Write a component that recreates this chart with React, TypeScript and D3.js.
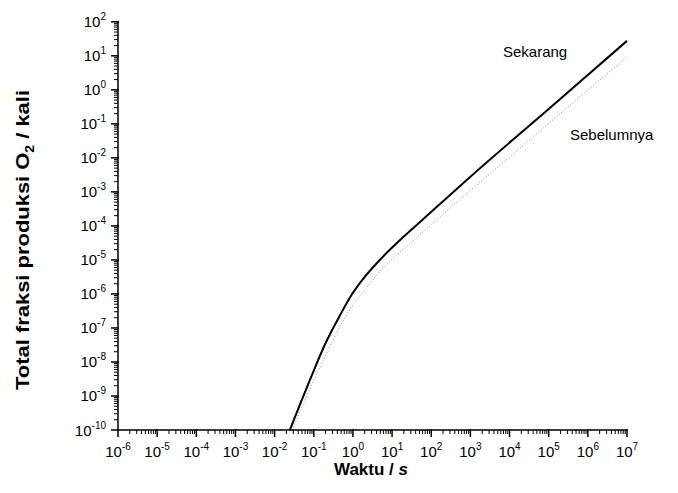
import React from "react";
import * as d3 from "d3";

const xTickExps = [-6, -5, -4, -3, -2, -1, 0, 1, 2, 3, 4, 5, 6, 7];
const yTickExps = [-10, -9, -8, -7, -6, -5, -4, -3, -2, -1, 0, 1, 2];

const sekarangTime = [0.0245, 0.0501, 0.1, 0.1995, 0.457, 0.912, 2.0, 4.79, 15.5, 56.2, 1000, 1e5, 1e7];
const sekarangValue = [1e-10, 7.9e-10, 5.6e-9, 3.55e-8, 2.24e-7, 9.1e-7, 3.16e-6, 9.8e-6, 3.7e-5, 1.41e-4, 2.8e-3, 0.275, 27.5];

const sebelumnyaTime = [0.0282, 0.0631, 0.158, 0.617, 1.0, 2.19, 4.79, 10.5, 28.2, 110, 31600, 1e7];
const sebelumnyaValue = [1e-10, 8.9e-10, 8.9e-9, 1.95e-7, 4.7e-7, 1.45e-6, 4.5e-6, 1.1e-5, 3.0e-5, 1.2e-4, 0.0331, 9.3];

const W = 678;
const H = 493;
const FONT = "Arial, 'Liberation Sans', Helvetica, sans-serif";

export default function App() {
  const x = d3.scaleLog().domain([1e-6, 1e7]).range([118, 627]);
  const y = d3.scaleLog().domain([1e-10, 1e2]).range([430, 21.8]);
  const x0 = x.range()[0];
  const y0 = y.range()[0];

  const line = d3
    .line<[number, number]>()
    .x((d) => x(d[0]))
    .y((d) => y(d[1]))
    .curve(d3.curveMonotoneX);

  const sek = sekarangTime.map((t, i) => [t, sekarangValue[i]] as [number, number]);
  const seb = sebelumnyaTime.map((t, i) => [t, sebelumnyaValue[i]] as [number, number]);

  const xMinor: number[] = [];
  xTickExps.slice(0, -1).forEach((e) => {
    for (let m = 2; m <= 9; m++) xMinor.push(m * Math.pow(10, e));
  });
  const yMinor: number[] = [];
  yTickExps.slice(0, -1).forEach((e) => {
    for (let m = 2; m <= 9; m++) yMinor.push(m * Math.pow(10, e));
  });

  return (
    <svg
      width={W}
      height={H}
      style={{ position: "absolute", left: 0, top: 0, background: "#fff" }}
      fontFamily={FONT}
    >
      {/* lines */}
      <path d={line(seb) || ""} fill="none" stroke="#8a8a8a" strokeWidth={1} strokeDasharray="1,2" />
      <path d={line(sek) || ""} fill="none" stroke="#000" strokeWidth={2} />

      {/* axes */}
      <line x1={x0} x2={x0} y1={y.range()[1]} y2={y0 + 0.5} stroke="#000" strokeWidth={1.5} />
      <line x1={x0 - 0.5} x2={x.range()[1] + 0.5} y1={y0} y2={y0} stroke="#000" strokeWidth={1.5} />

      {xMinor.map((v, i) => (
        <line key={"xm" + i} x1={x(v)} x2={x(v)} y1={y0} y2={y0 + 4} stroke="#000" strokeWidth={1} />
      ))}
      {xTickExps.map((e) => (
        <g key={"xt" + e}>
          <line x1={x(Math.pow(10, e))} x2={x(Math.pow(10, e))} y1={y0 - 1} y2={y0 + 7} stroke="#000" strokeWidth={1.5} />
          <text x={x(Math.pow(10, e))} y={456.5} textAnchor="middle" fontSize={15} fill="#000">
            10<tspan dy={-7} fontSize={10}>{e}</tspan>
          </text>
        </g>
      ))}

      {yMinor.map((v, i) => (
        <line key={"ym" + i} x1={x0 - 4} x2={x0} y1={y(v)} y2={y(v)} stroke="#000" strokeWidth={1} />
      ))}
      {yTickExps.map((e) => (
        <g key={"yt" + e}>
          <line x1={x0 - 7} x2={x0 + 1} y1={y(Math.pow(10, e))} y2={y(Math.pow(10, e))} stroke="#000" strokeWidth={1.5} />
          <text x={106} y={y(Math.pow(10, e)) + 5.5} textAnchor="end" fontSize={15} fill="#000">
            10<tspan dy={-7} fontSize={10}>{e}</tspan>
          </text>
        </g>
      ))}

      {/* series labels */}
      <text x={503} y={57} fontSize={15} fill="#000">Sekarang</text>
      <text x={570} y={140} fontSize={15} fill="#000">Sebelumnya</text>

      {/* axis titles */}
      <text x={371} y={475} textAnchor="middle" fontSize={17} fontWeight="bold" fill="#000">
        Waktu / <tspan fontStyle="italic">s</tspan>
      </text>
      <text
        transform={`translate(29, 240) rotate(-90)`}
        textAnchor="middle"
        fontSize={19}
        fontWeight="bold"
        fill="#000"
        textLength={300}
        lengthAdjust="spacingAndGlyphs"
      >
        Total fraksi produksi O<tspan dy={5} fontSize={12}>2</tspan>
        <tspan dy={-5}> / kali</tspan>
      </text>
    </svg>
  );
}
